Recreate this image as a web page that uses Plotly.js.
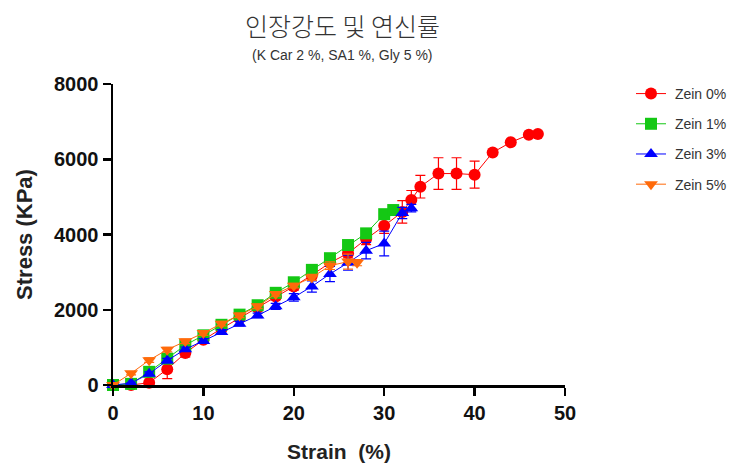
<!DOCTYPE html>
<html><head><meta charset="utf-8">
<script src="https://cdn.plot.ly/plotly-3.0.1.min.js"></script>
<style>body{margin:0;background:#fff}#c{width:745px;height:465px}</style>
</head><body><div id="c"></div>
<script>
const names = ["Zein 0%", "Zein 1%", "Zein 3%", "Zein 5%"];
const colors = ["#FF0000", "#14C814", "#0000FF", "#FF6A0A"];
const symbols = ["circle", "square", "triangle-up", "triangle-down"];

const x0 = [0, 2, 4, 6, 8, 10, 12, 14, 16, 18, 20, 22, 24, 26, 28, 30, 32, 33, 34, 36, 38, 40, 42, 44, 46, 47];
const y0 = [0, 0, 60, 420, 850, 1200, 1500, 1780, 2050, 2350, 2620, 2920, 3250, 3500, 3880, 4230, 4600, 4920, 5270, 5620, 5620, 5590, 6180, 6450, 6650, 6670];
const e0 = [0, 0, 60, 250, 100, 80, 80, 80, 80, 80, 100, 100, 100, 120, 150, 200, 300, 250, 300, 420, 420, 360, 0, 0, 0, 0];

const x1 = [0, 2, 4, 6, 8, 10, 12, 14, 16, 18, 20, 22, 24, 26, 28, 30, 31];
const y1 = [0, 30, 350, 700, 1060, 1320, 1600, 1870, 2120, 2450, 2730, 3060, 3370, 3720, 4030, 4540, 4650];
const e1 = [0, 0, 50, 60, 60, 60, 60, 60, 60, 60, 60, 60, 60, 80, 80, 100, 80];

const x3 = [0, 2, 4, 6, 8, 10, 12, 14, 16, 18, 20, 22, 24, 26, 28, 30, 32, 33];
const y3 = [0, 50, 300, 650, 950, 1170, 1410, 1630, 1850, 2090, 2330, 2620, 2950, 3250, 3570, 3760, 4570, 4700];
const e3 = [0, 0, 50, 60, 60, 60, 60, 60, 60, 80, 100, 150, 200, 200, 220, 330, 150, 100];

const x5 = [0, 2, 4, 6, 8, 10, 12, 14, 16, 18, 20, 22, 24, 26, 27];
const y5 = [0, 310, 660, 940, 1160, 1380, 1630, 1850, 2090, 2420, 2640, 2860, 3170, 3280, 3250];
const e5 = [0, 40, 60, 60, 60, 60, 60, 60, 60, 60, 60, 80, 100, 200, 80];

const xs = [x0, x1, x3, x5], ys = [y0, y1, y3, y5], es = [e0, e1, e3, e5];
const pad = "\u00A0";
const traces = names.map((n, i) => ({
  type: "scatter", mode: "lines+markers", name: pad + n, legendgroup: "g" + i,
  x: xs[i], y: ys[i],
  error_y: {type: "data", array: es[i], visible: true, color: colors[i], thickness: 1.2, width: 5},
  line: {color: colors[i], width: 1},
  marker: {symbol: symbols[i], color: colors[i], size: 12, line: {width: 0}},
  cliponaxis: false
}));

const F = "Arial, Liberation Sans, sans-serif";
const layout = {
  width: 745, height: 465,
  margin: {l: 113, r: 180, t: 84, b: 80},
  paper_bgcolor: "#fff", plot_bgcolor: "#fff",
  showlegend: true,
  legend: {x: (631 - 113) / 452, y: 1.02, xanchor: "left", yanchor: "top", tracegroupgap: 9,
    font: {family: F, size: 14, color: "#333"}, bgcolor: "rgba(0,0,0,0)"},
  xaxis: {range: [0, 50], tickvals: [0, 10, 20, 30, 40, 50], showgrid: false, zeroline: false,
    showline: true, linecolor: "#000", linewidth: 2.5, ticks: "outside", ticklen: 8, tickwidth: 2.5, tickcolor: "#000",
    tickfont: {family: F, size: 20, color: "#111", weight: "bold"},
    title: {text: "Strain  (%)", standoff: 22, font: {family: F, size: 21, color: "#222", weight: "bold"}}},
  yaxis: {range: [0, 8000], tickvals: [0, 2000, 4000, 6000, 8000], showgrid: false, zeroline: false,
    showline: true, linecolor: "#000", linewidth: 2.5, ticks: "outside", ticklen: 8, tickwidth: 2.5, tickcolor: "#000",
    tickfont: {family: F, size: 20, color: "#111", weight: "bold"},
    title: {text: "Stress (KPa)", standoff: 16, font: {family: F, size: 22, color: "#222", weight: "bold"}}},
  annotations: [
    {text: "인장강도 및 연신률", xref: "paper", yref: "paper", x: (342 - 113) / 452, y: 1 + (84 - 25) / 301,
     showarrow: false, xanchor: "center", yanchor: "middle",
     font: {family: "Noto Sans CJK KR, sans-serif", size: 25, color: "#333", weight: 300}},
    {text: "(K Car 2 %, SA1 %, Gly 5 %)", xref: "paper", yref: "paper", x: (342 - 113) / 452, y: 1 + (84 - 55) / 301,
     showarrow: false, xanchor: "center", yanchor: "middle",
     font: {family: "Liberation Sans Narrow, Arial Narrow, Arial, sans-serif", size: 14, color: "#333"}}
  ]
};
Plotly.newPlot("c", traces, layout, {displayModeBar: false, staticPlot: true});
</script>
</body></html>
